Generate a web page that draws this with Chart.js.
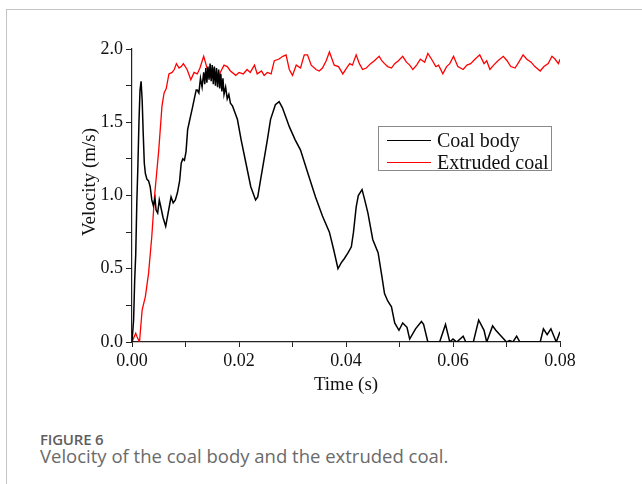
<!DOCTYPE html>
<html>
<head>
<meta charset="utf-8">
<script src="https://cdn.jsdelivr.net/npm/chart.js@4.4.1/dist/chart.umd.min.js"></script>
<style>
  html, body { margin: 0; padding: 0; background: #fff; }
  body { width: 642px; height: 484px; position: relative; overflow: hidden; }
  #frame { position: absolute; left: 6px; top: 9px; width: 700px; height: 600px;
           border-left: 1.5px solid #c4c4c4; border-top: 1.5px solid #c4c4c4; }
  #wrap { position: absolute; left: 0; top: 0; width: 642px; height: 410px; }
  #legend { position: absolute; left: 378px; top: 126px; width: 174px; height: 45px;
            border: 1px solid #8a8a8a; background: #fff; box-sizing: border-box;
            font-family: "Liberation Serif", "Times New Roman", serif; font-size: 20px; color: #111; }
  .row { position: absolute; left: 0; height: 22px; display: flex; align-items: center; }
  .swatch { width: 44px; height: 0; margin-left: 8px; margin-right: 6px; }
  #cap1 { position: absolute; left: 40px; top: 429px; font-family: "Open Sans", sans-serif;
          font-size: 15px; font-weight: 600; color: #5e5e5e; letter-spacing: -0.2px; }
  #cap2 { position: absolute; left: 40px; top: 443px; font-family: "Open Sans", sans-serif;
          font-size: 18.5px; color: #6a6a6a; }
</style>
</head>
<body>
<div id="frame"></div>
<div id="wrap"><canvas id="c" width="642" height="410"></canvas></div>
<div id="legend"></div>
<div id="cap1">FIGURE 6</div>
<div id="cap2">Velocity of the coal body and the extruded coal.</div>
<script>
// ---- Data ----
const seriesNames = ["Coal body", "Extruded coal"];
const xAxisTitle = "Time (s)";
const yAxisTitle = "Velocity (m/s)";
const xTickValues = [0.00, 0.02, 0.04, 0.06, 0.08];
const yTickValues = [0.0, 0.5, 1.0, 1.5, 2.0];

const coalTime = [
  0.0000, 0.0003, 0.0005, 0.0007, 0.0009, 0.0011, 0.0013, 0.0015, 0.0017, 0.0019,
  0.0021, 0.0023, 0.0025, 0.0028, 0.0031, 0.0034, 0.0037, 0.0040, 0.0043, 0.0045,
  0.0048, 0.0051, 0.0054, 0.0058, 0.0063, 0.0066, 0.0070, 0.0073, 0.0077, 0.0081,
  0.0085, 0.0089, 0.0092, 0.0095, 0.0098, 0.0101, 0.0104, 0.0107, 0.0110, 0.0113,
  0.0117, 0.0120, 0.0122, 0.0125, 0.0128, 0.0131, 0.0134, 0.0136, 0.0138, 0.0140,
  0.0142, 0.0144, 0.0146, 0.0148, 0.0150, 0.0152, 0.0154, 0.0156, 0.0158, 0.0160,
  0.0162, 0.0164, 0.0166, 0.0168, 0.0170, 0.0172, 0.0175, 0.0178, 0.0181, 0.0184,
  0.0188, 0.0192, 0.0197, 0.0204, 0.0213, 0.0222, 0.0231, 0.0235, 0.0240, 0.0247,
  0.0253, 0.0259, 0.0268, 0.0275, 0.0281, 0.0288, 0.0294, 0.0305, 0.0315, 0.0328,
  0.0343, 0.0356, 0.0369, 0.0377, 0.0385, 0.0391, 0.0397, 0.0404, 0.0410, 0.0414,
  0.0419, 0.0423, 0.0430, 0.0435, 0.0441, 0.0450, 0.0460, 0.0467, 0.0472, 0.0478,
  0.0485, 0.0491, 0.0499, 0.0506, 0.0514, 0.0519, 0.0530, 0.0541, 0.0545, 0.0553,
  0.0575, 0.0586, 0.0594, 0.0600, 0.0607, 0.0619, 0.0624, 0.0638, 0.0648, 0.0658,
  0.0663, 0.0674, 0.0680, 0.0700, 0.0706, 0.0712, 0.0719, 0.0725, 0.0763, 0.0769,
  0.0776, 0.0783, 0.0793, 0.0800
];
const coalVelocity = [
  0.00, 0.15, 0.42, 0.60, 0.95, 1.20, 1.50, 1.72, 1.78, 1.65,
  1.42, 1.22, 1.15, 1.11, 1.10, 1.06, 0.97, 0.93, 0.98, 0.90,
  0.88, 0.97, 0.92, 0.85, 0.79, 0.85, 0.93, 0.99, 0.95, 0.97,
  1.02, 1.10, 1.22, 1.25, 1.24, 1.30, 1.45, 1.50, 1.55, 1.60,
  1.67, 1.72, 1.72, 1.70, 1.80, 1.74, 1.84, 1.76, 1.87, 1.77,
  1.88, 1.79, 1.90, 1.78, 1.89, 1.76, 1.88, 1.75, 1.87, 1.74,
  1.86, 1.73, 1.83, 1.71, 1.80, 1.69, 1.74, 1.66, 1.69, 1.63,
  1.61, 1.57, 1.52, 1.38, 1.22, 1.06, 0.97, 0.99, 1.10, 1.25,
  1.38, 1.52, 1.62, 1.64, 1.60, 1.53, 1.47, 1.38, 1.31, 1.16,
  0.99, 0.86, 0.75, 0.63, 0.50, 0.54, 0.57, 0.61, 0.65, 0.75,
  0.92, 1.00, 1.04, 0.97, 0.88, 0.70, 0.61, 0.45, 0.33, 0.28,
  0.24, 0.13, 0.08, 0.13, 0.10, 0.02, 0.09, 0.14, 0.12, 0.00,
  0.00, 0.12, 0.00, 0.02, 0.00, 0.04, 0.00, 0.00, 0.15, 0.08,
  0.00, 0.11, 0.08, 0.00, 0.01, 0.00, 0.04, 0.00, 0.00, 0.09,
  0.05, 0.09, 0.00, 0.07
];

const extrudedTime = [
  0.0000, 0.0007, 0.0010, 0.0014, 0.0019, 0.0025, 0.0031, 0.0037, 0.0042, 0.0050,
  0.0056, 0.0060, 0.0064, 0.0069, 0.0075, 0.0079, 0.0083, 0.0088, 0.0092, 0.0096,
  0.0103, 0.0110, 0.0116, 0.0122, 0.0127, 0.0134, 0.0141, 0.0147, 0.0152, 0.0160,
  0.0165, 0.0172, 0.0178, 0.0184, 0.0194, 0.0200, 0.0208, 0.0215, 0.0221, 0.0229,
  0.0234, 0.0242, 0.0247, 0.0253, 0.0260, 0.0266, 0.0274, 0.0282, 0.0288, 0.0294,
  0.0300, 0.0307, 0.0315, 0.0322, 0.0328, 0.0335, 0.0344, 0.0350, 0.0356, 0.0363,
  0.0369, 0.0378, 0.0386, 0.0394, 0.0401, 0.0407, 0.0412, 0.0419, 0.0425, 0.0431,
  0.0438, 0.0446, 0.0453, 0.0462, 0.0467, 0.0472, 0.0478, 0.0485, 0.0491, 0.0498,
  0.0506, 0.0513, 0.0519, 0.0525, 0.0532, 0.0539, 0.0547, 0.0553, 0.0560, 0.0568,
  0.0573, 0.0581, 0.0588, 0.0594, 0.0601, 0.0609, 0.0619, 0.0626, 0.0633, 0.0641,
  0.0650, 0.0658, 0.0663, 0.0669, 0.0676, 0.0684, 0.0694, 0.0701, 0.0708, 0.0716,
  0.0723, 0.0731, 0.0738, 0.0746, 0.0753, 0.0763, 0.0770, 0.0778, 0.0785, 0.0791,
  0.0797, 0.0800
];
const extrudedVelocity = [
  0.00, 0.06, 0.03, 0.00, 0.22, 0.31, 0.47, 0.72, 0.99, 1.31,
  1.61, 1.70, 1.73, 1.83, 1.84, 1.86, 1.90, 1.87, 1.88, 1.90,
  1.86, 1.79, 1.84, 1.83, 1.87, 1.95, 1.86, 1.81, 1.86, 1.78,
  1.84, 1.89, 1.88, 1.85, 1.82, 1.84, 1.83, 1.86, 1.84, 1.89,
  1.83, 1.85, 1.82, 1.84, 1.83, 1.92, 1.93, 1.95, 1.96, 1.86,
  1.82, 1.89, 1.87, 1.96, 1.96, 1.89, 1.86, 1.85, 1.87, 1.92,
  1.98, 1.89, 1.88, 1.83, 1.87, 1.90, 1.89, 1.96, 1.90, 1.86,
  1.87, 1.90, 1.92, 1.95, 1.92, 1.90, 1.88, 1.87, 1.90, 1.92,
  1.95, 1.91, 1.89, 1.86, 1.89, 1.93, 1.91, 1.97, 1.93, 1.88,
  1.89, 1.83, 1.88, 1.90, 1.95, 1.88, 1.86, 1.89, 1.90, 1.93,
  1.96, 1.90, 1.92, 1.86, 1.89, 1.92, 1.95, 1.92, 1.88, 1.87,
  1.91, 1.96, 1.93, 1.91, 1.88, 1.85, 1.88, 1.90, 1.95, 1.93,
  1.90, 1.93
];

const seriesColors = ["#000000", "#ff0000"];

function toPoints(xs, ys) { return xs.map((x, i) => ({ x: x, y: ys[i] })); }

const serif = "'Liberation Serif', 'Times New Roman', serif";

const yTitlePlugin = {
  id: 'yTitle',
  afterDraw(chart) {
    const ctx = chart.ctx;
    ctx.save();
    ctx.font = "19px " + serif;
    ctx.fillStyle = "#111";
    ctx.textAlign = "center";
    ctx.textBaseline = "middle";
    ctx.translate(90, 182);
    ctx.rotate(-Math.PI / 2);
    ctx.fillText(yAxisTitle, 0, 0);
    ctx.restore();
  }
};

const chart = new Chart(document.getElementById('c'), {
  type: 'line',
  data: {
    datasets: [
      { label: seriesNames[0], data: toPoints(coalTime, coalVelocity),
        borderColor: seriesColors[0], borderWidth: 1.5, pointRadius: 0, tension: 0, fill: false },
      { label: seriesNames[1], data: toPoints(extrudedTime, extrudedVelocity),
        borderColor: seriesColors[1], borderWidth: 1.3, pointRadius: 0, tension: 0, fill: false }
    ]
  },
  plugins: [yTitlePlugin],
  options: {
    responsive: false,
    animation: false,
    layout: { padding: { left: 0, top: 49, right: 82, bottom: 0 } },
    plugins: { legend: { display: false }, tooltip: { enabled: false } },
    scales: {
      x: {
        type: 'linear', min: 0, max: 0.08,
        afterFit(scale) { scale.height = 68; },
        ticks: {
          stepSize: 0.01, padding: 3, color: "#111",
          font: { family: serif, size: 18 },
          maxRotation: 0, autoSkip: false,
          callback(v) {
            const k = Math.round(v * 100);
            return (k % 2 === 0) ? (k / 100).toFixed(2) : '';
          }
        },
        grid: { drawOnChartArea: false, tickLength: 5, tickColor: "#222", tickWidth: 1 },
        border: { color: "#222", width: 1.2 },
        title: { display: true, text: xAxisTitle, color: "#111",
                 font: { family: serif, size: 19 }, padding: { top: 0, bottom: 14 } }
      },
      y: {
        type: 'linear', min: 0, max: 2.0,
        afterFit(scale) { scale.width = 132; },
        ticks: {
          stepSize: 0.25, padding: 3, color: "#111",
          font: { family: serif, size: 18 },
          autoSkip: false,
          callback(v) {
            const k = Math.round(v * 4);
            return (k % 2 === 0) ? (k / 4).toFixed(1) : '';
          }
        },
        grid: { drawOnChartArea: false, tickLength: 6, tickColor: "#222", tickWidth: 1 },
        border: { color: "#222", width: 1.2 }
      }
    }
  }
});

// HTML legend built from the chart's own datasets
const leg = document.getElementById('legend');
chart.data.datasets.forEach((ds, i) => {
  const row = document.createElement('div');
  row.className = 'row';
  row.style.top = (2 + i * 22) + 'px';
  const sw = document.createElement('span');
  sw.className = 'swatch';
  sw.style.borderTop = '1.5px solid ' + ds.borderColor;
  const tx = document.createElement('span');
  tx.textContent = ds.label;
  row.appendChild(sw); row.appendChild(tx);
  leg.appendChild(row);
});
</script>
</body>
</html>
